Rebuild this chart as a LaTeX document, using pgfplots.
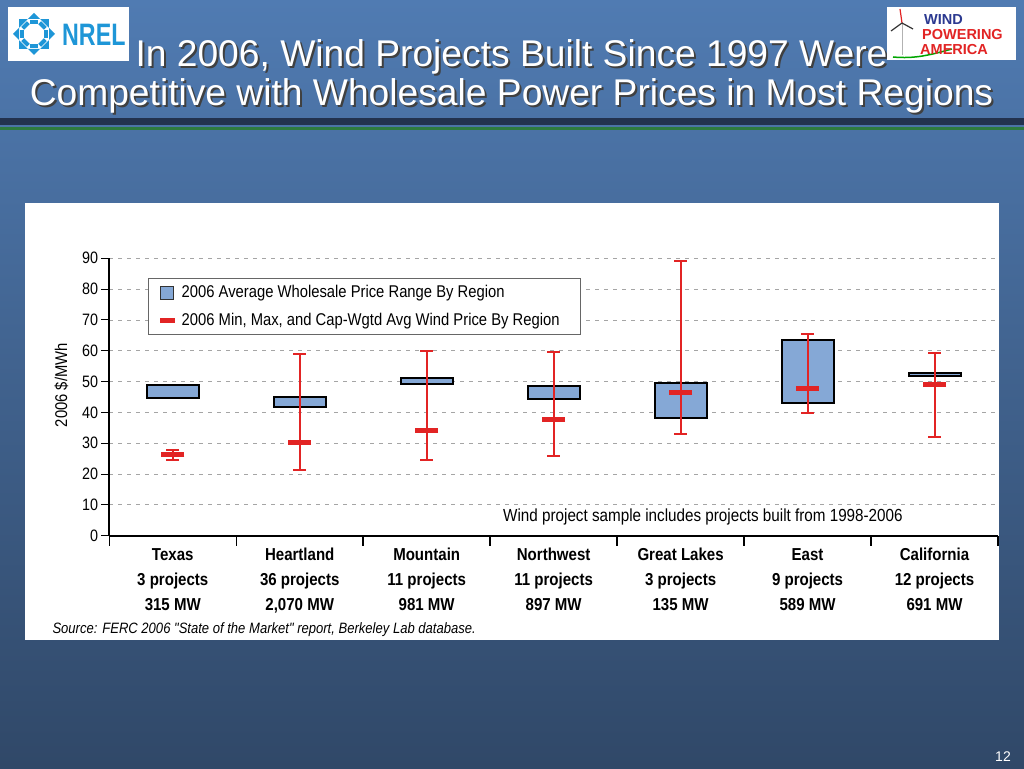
\documentclass[border=0pt]{standalone}
\usepackage{pgfplots}
\pgfplotsset{compat=1.18}
\usepackage{pgfplotstable}
\usepackage{fontspec}
\setmainfont{Liberation Sans}
\newfontfamily\cond[FakeStretch=0.87]{Liberation Sans}
\newfontfamily\logofont[FakeStretch=0.75]{Liberation Sans}

\definecolor{bgtop}{RGB}{80,123,178}
\definecolor{bgbot}{RGB}{48,72,104}
\definecolor{navybar}{RGB}{34,50,78}
\definecolor{greenbar}{RGB}{45,122,62}
\definecolor{boxblue}{RGB}{133,168,214}
\definecolor{windred}{RGB}{226,36,36}
\definecolor{gridgray}{RGB}{165,165,165}
\definecolor{nrelblue}{RGB}{30,150,215}
\definecolor{wpablue}{RGB}{43,57,144}

% wind price by region: min, cap-weighted average, max
\pgfplotstableread{
x wmin wavg wmax
0 24.5 26.4 27.8
1 21.3 30.1 58.9
2 24.6 34.0 59.9
3 25.9 37.8 59.6
4 33.0 46.6 89.0
5 39.8 47.7 65.3
6 31.9 48.9 59.3
}\windtable

\begin{document}
\begin{tikzpicture}[x=1pt,y=1pt]
% slide background
\shade[top color=bgtop, bottom color=bgbot] (0,0) rectangle (1024,768);
\fill[navybar] (0,643) rectangle (1024,650);
\fill[greenbar] (0,638) rectangle (1024,640.5);

% title
\begin{scope}[font=\fontsize{37.2}{40}\selectfont]
  \node[anchor=base, black!75] at (513.5,699) {In 2006, Wind Projects Built Since 1997 Were};
  \node[anchor=base, white] at (511.5,701) {In 2006, Wind Projects Built Since 1997 Were};
  \node[anchor=base, black!75] at (513.5,660) {Competitive with Wholesale Power Prices in Most Regions};
  \node[anchor=base, white] at (511.5,662) {Competitive with Wholesale Power Prices in Most Regions};
\end{scope}

% NREL logo
\fill[white] (8,707) rectangle (129,761);
\foreach \a in {0,45,...,315}{
  \begin{scope}[shift={(34,734)}, rotate=\a]
    \fill[nrelblue] (21,0) -- (15,6) -- (15,-6) -- cycle;
    \fill[nrelblue] (10,-4) rectangle (14,4);
  \end{scope}
}
\node[anchor=west, inner sep=0pt, nrelblue, font=\bfseries\logofont\fontsize{31}{31}\selectfont] at (62,733) {NREL};

% Wind Powering America logo
\fill[white] (887,708) rectangle (1016,761);
\draw[gray!60, line width=1pt] (902,713) -- (902,745);
\draw[windred, line width=1.2pt] (902,745) -- (900,759);
\draw[black!80, line width=1.2pt] (902,745) -- (891,737);
\draw[black!80, line width=1.2pt] (902,745) -- (913,739);
\draw[green!65!black, line width=1.5pt] (893,711) .. controls (915,709) and (930,713) .. (952,719);
\begin{scope}[font=\bfseries\fontsize{14.5}{14.5}\selectfont, inner sep=0pt]
  \node[anchor=west, wpablue] at (924,748) {WIND};
  \node[anchor=west, windred] at (922,733) {POWERING};
  \node[anchor=west, windred] at (920,718) {AMERICA};
\end{scope}

% chart panel
\fill[white] (25,128) rectangle (999,565);

\begin{axis}[
  at={(109.3pt,232.3pt)}, anchor=south west,
  scale only axis, width=888.7pt, height=277.4pt,
  xmin=-0.5, xmax=6.5, ymin=0, ymax=90,
  axis x line*=bottom, axis y line*=left,
  axis line style={-, line width=2pt, black},
  ytick={0,10,...,90},
  xtick={0,...,6},
  xticklabels={
    {Texas\\3 projects\\315 MW},
    {Heartland\\36 projects\\2,070 MW},
    {Mountain\\11 projects\\981 MW},
    {Northwest\\11 projects\\897 MW},
    {Great Lakes\\3 projects\\135 MW},
    {East\\9 projects\\589 MW},
    {California\\12 projects\\691 MW}},
  minor xtick={-0.5,0.5,...,6.5},
  tick align=outside,
  major tick length=8pt, minor tick length=10pt,
  major x tick style={draw=none},
  minor x tick style={line width=1.5pt, black},
  major y tick style={line width=1pt, black},
  ymajorgrids,
  major grid style={gridgray, dash pattern=on 4pt off 5pt, line width=0.8pt},
  /pgf/number format/assume math mode=true,
  yticklabel style={font=\cond\fontsize{16.5}{18}\selectfont, inner sep=3pt},
  xticklabel style={font=\bfseries\cond\fontsize{17.3}{25}\selectfont, align=center, yshift=-1pt},
  ylabel={2006 \$/MWh},
  ylabel style={at={(rel axis cs:0,0.543)}, anchor=center, yshift=48pt,
    font=\cond\fontsize{17}{18}\selectfont},
  legend style={at={(rel axis cs:0.0439,0.928)}, anchor=north west,
    draw=black!60, line width=0.8pt, fill=white,
    font=\cond\fontsize{17}{18}\selectfont,
    inner xsep=9pt, inner ysep=5pt, row sep=10pt,
    nodes={inner xsep=4pt}},
  legend cell align=left,
]
% 2006 average wholesale price range by region (low to high)
\addplot[fill=boxblue, draw=black, line width=2pt,
  legend image code/.code={\draw[fill=boxblue, draw=black!80, line width=0.8pt] (0pt,-6.5pt) rectangle (13pt,6.5pt);}]
  coordinates {(-0.205,44.8) (0.205,44.8) (0.205,48.9) (-0.205,48.9)} --cycle;
\addlegendentry{2006 Average Wholesale Price Range By Region}
\addplot[forget plot, fill=boxblue, draw=black, line width=2pt]
  coordinates {(0.795,41.7) (1.205,41.7) (1.205,44.9) (0.795,44.9)} --cycle;
\addplot[forget plot, fill=boxblue, draw=black, line width=2pt]
  coordinates {(1.795,49.2) (2.205,49.2) (2.205,51.1) (1.795,51.1)} --cycle;
\addplot[forget plot, fill=boxblue, draw=black, line width=2pt]
  coordinates {(2.795,44.5) (3.205,44.5) (3.205,48.6) (2.795,48.6)} --cycle;
\addplot[forget plot, fill=boxblue, draw=black, line width=2pt]
  coordinates {(3.795,38.2) (4.205,38.2) (4.205,49.4) (3.795,49.4)} --cycle;
\addplot[forget plot, fill=boxblue, draw=black, line width=2pt]
  coordinates {(4.795,43.1) (5.205,43.1) (5.205,63.5) (4.795,63.5)} --cycle;
\addplot[forget plot, fill=boxblue, draw=black, line width=2pt]
  coordinates {(5.795,51.8) (6.205,51.8) (6.205,52.8) (5.795,52.8)} --cycle;

% wind prices
\addplot[only marks, color=windred, mark=-, mark size=11.5pt,
  mark options={line width=5pt, solid},
  legend image code/.code={\draw[windred, line width=5pt] (0pt,0pt) -- (15pt,0pt);},
  error bars/.cd, y dir=both, y explicit,
  error bar style={line width=2pt, windred},
  error mark=-,
  error mark options={rotate=90, mark size=6.3pt, line width=2pt, windred}]
  table[x=x, y=wavg,
    y error plus expr=\thisrow{wmax}-\thisrow{wavg},
    y error minus expr=\thisrow{wavg}-\thisrow{wmin}] {\windtable};
\addlegendentry{2006 Min, Max, and Cap-Wgtd Avg Wind Price By Region\hspace*{8pt}}

\node[anchor=west, font=\cond\fontsize{17.5}{18}\selectfont] at (axis cs:2.575,6.07)
  {Wind project sample includes projects built from 1998-2006};
\end{axis}

% source and page number
\node[anchor=west, font=\itshape\cond\fontsize{15}{16}\selectfont] at (49,138)
  {Source: FERC 2006 "State of the Market" report, Berkeley Lab database.};
\node[white, font=\fontsize{14}{14}\selectfont] at (1003,11) {12};
\end{tikzpicture}
\end{document}
